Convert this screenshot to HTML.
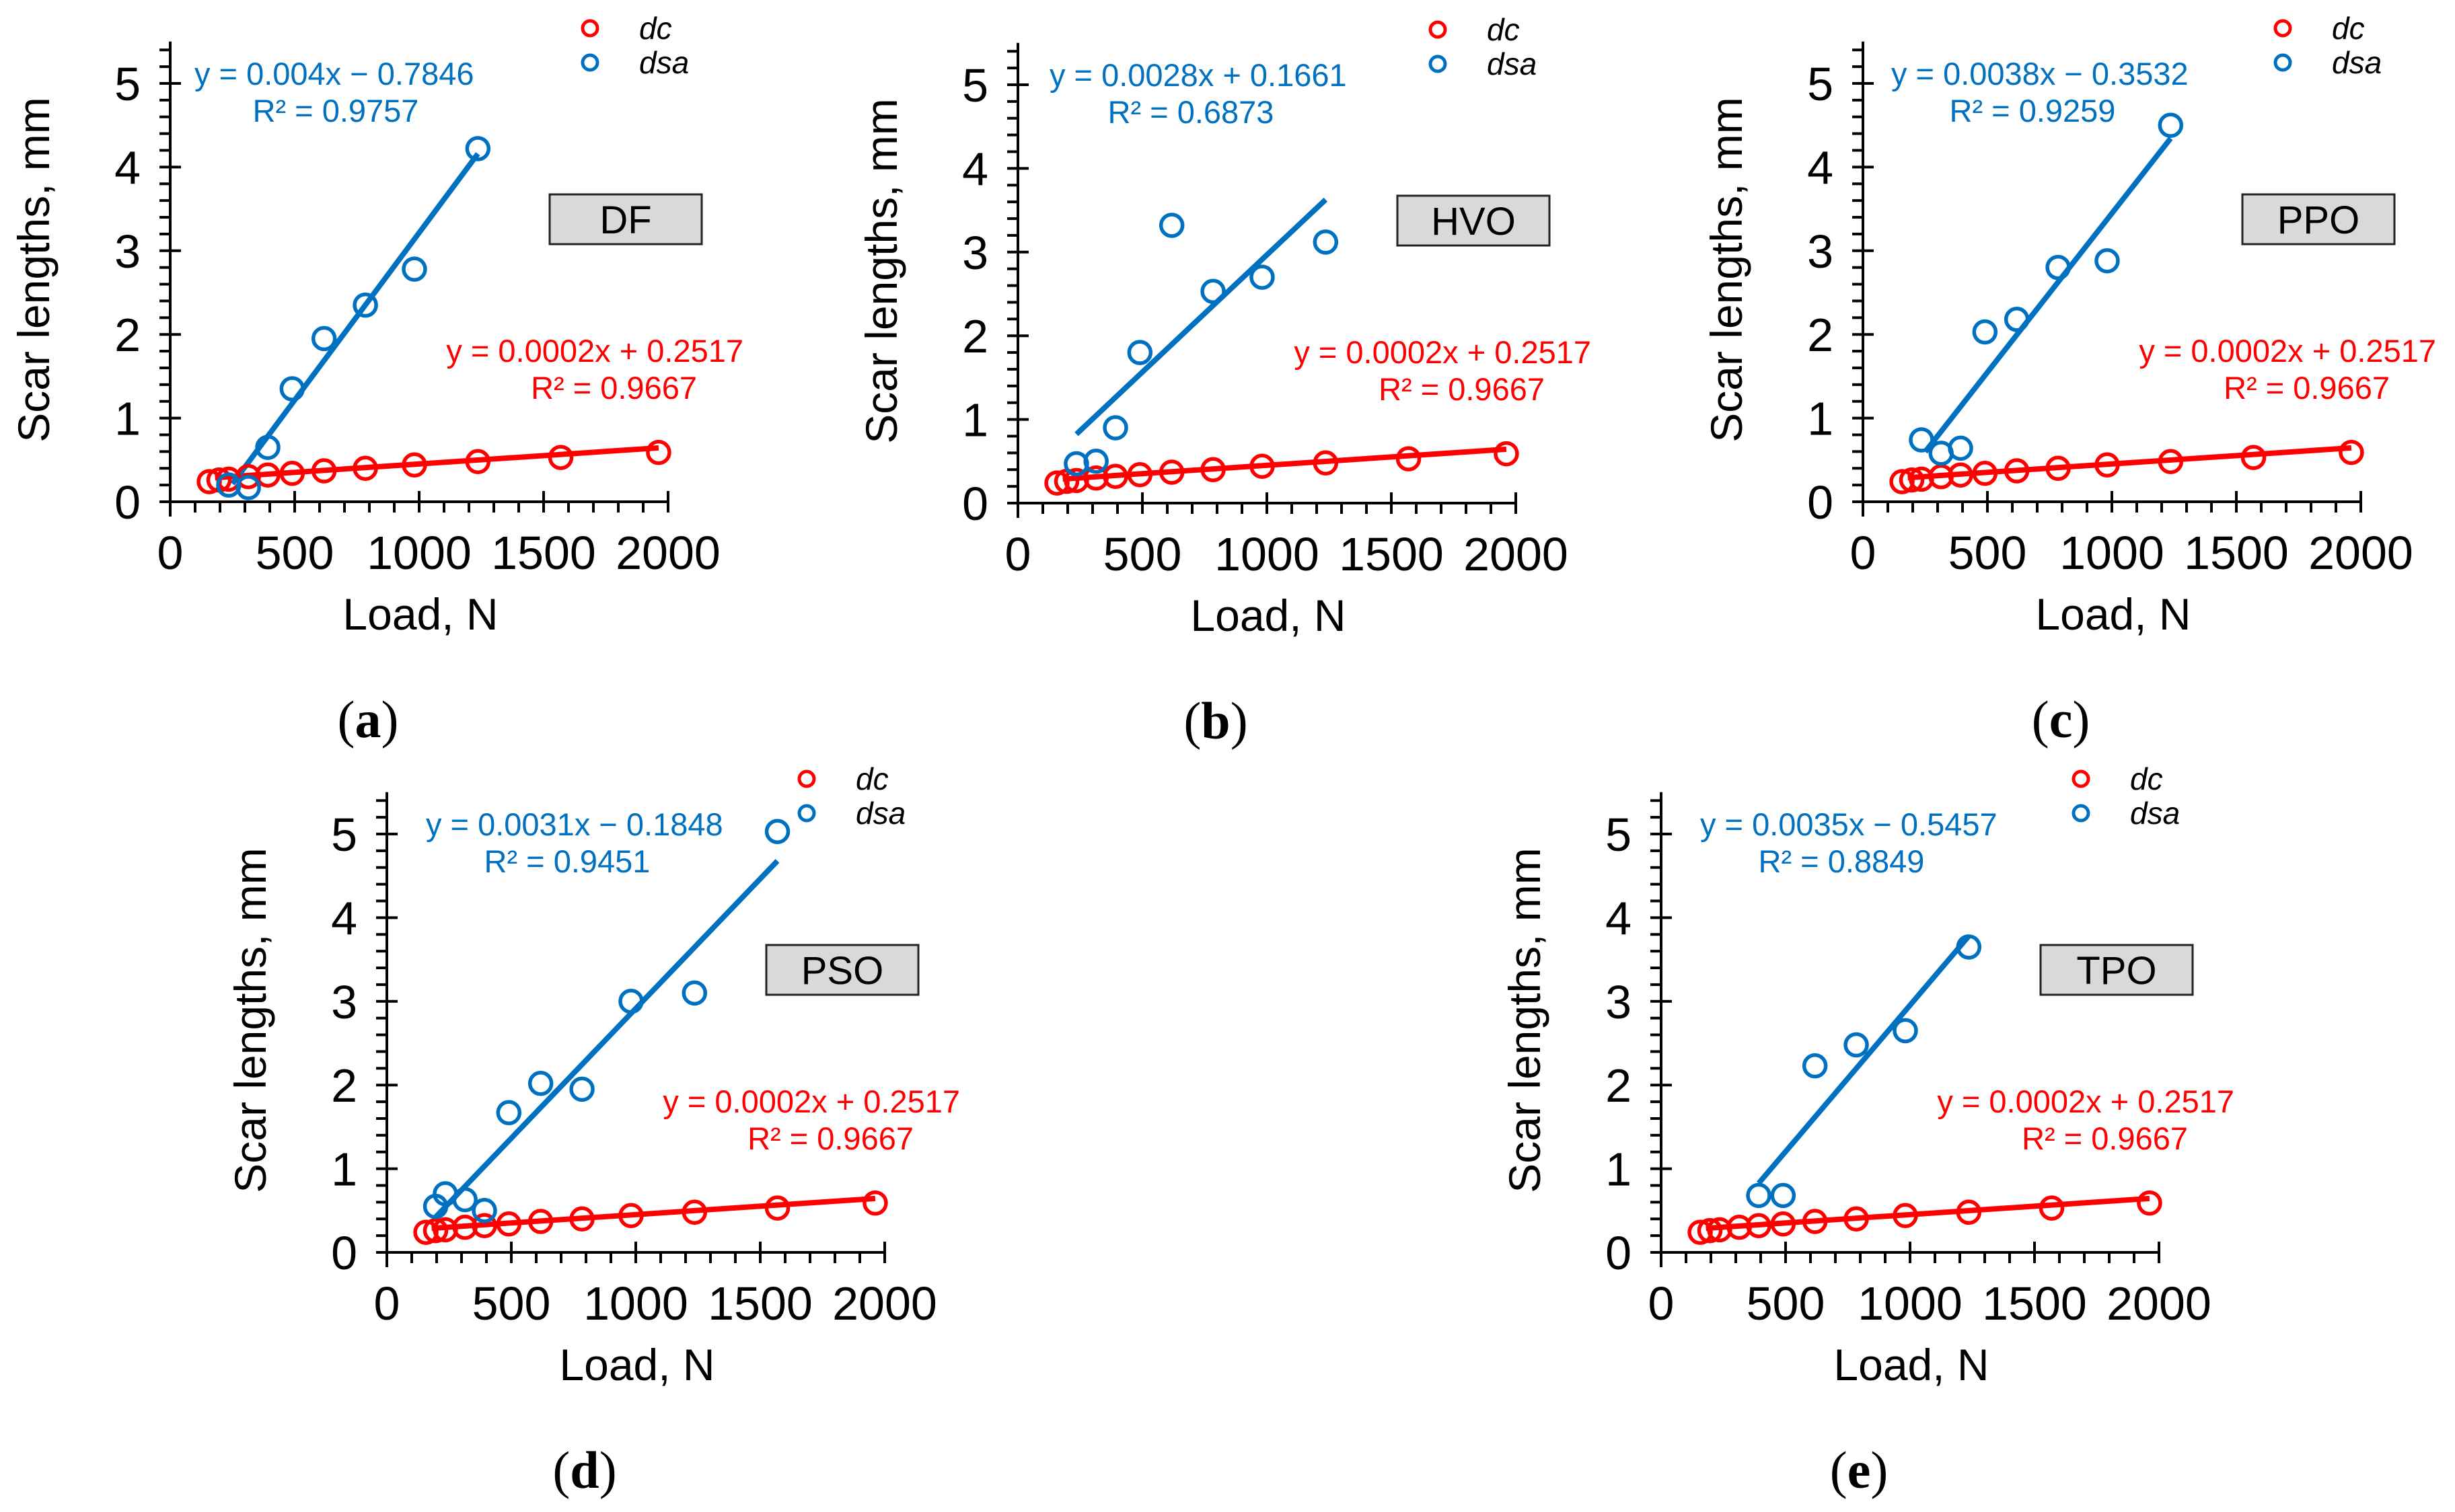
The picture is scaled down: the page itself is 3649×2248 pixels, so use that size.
<!DOCTYPE html>
<html><head><meta charset="utf-8"><style>
html,body{margin:0;padding:0;background:#fff}
svg{display:block}
text{font-family:"Liberation Sans",Arial,sans-serif}
text.cap{font-family:"Liberation Serif","Times New Roman",serif}
</style></head><body>
<svg id="chart" xmlns="http://www.w3.org/2000/svg" width="3649" height="2248" viewBox="0 0 3649 2248"></svg>
<script>
// ---------- data ----------
const panelIds = ['a','b','c','d','e'];
const fuelNames = ['DF','HVO','PPO','PSO','TPO'];
const dcLoads = [157,196,235,314,392,490,618,784,981,1236,1569,1962];
const dcValues = [0.24,0.26,0.27,0.30,0.32,0.34,0.37,0.40,0.44,0.48,0.53,0.59];
const dsaLoadsA = [235,314,392,490,618,784,981,1236];
const dsaValuesA = [0.20,0.17,0.65,1.35,1.95,2.35,2.78,4.22];
const dsaLoadsB = [235,314,392,490,618,784,981,1236];
const dsaValuesB = [0.47,0.50,0.90,1.80,3.32,2.53,2.70,3.12];
const dsaLoadsC = [235,314,392,490,618,784,981,1236];
const dsaValuesC = [0.74,0.58,0.64,2.03,2.18,2.80,2.88,4.50];
const dsaLoadsD = [196,235,314,392,490,618,784,981,1236,1569];
const dsaValuesD = [0.55,0.70,0.63,0.50,1.67,2.02,1.95,3.00,3.10,5.03];
const dsaLoadsE = [392,490,618,784,981,1236];
const dsaValuesE = [0.68,0.68,2.23,2.48,2.65,3.65];
const dsaSlopes = [0.004,0.0028,0.0038,0.0031,0.0035];
const dsaIntercepts = [-0.7846,0.1661,-0.3532,-0.1848,-0.5457];
const dsaFitStart = [250,235,250,196,392];
const dsaFitEnd = [1236,1236,1236,1569,1236];
const dsaEquations = ['y = 0.004x  \u2212 0.7846','y = 0.0028x  + 0.1661','y = 0.0038x  \u2212 0.3532','y = 0.0031x  \u2212 0.1848','y = 0.0035x  \u2212 0.5457'];
const dsaR2 = ['R\u00b2 = 0.9757','R\u00b2 = 0.6873','R\u00b2 = 0.9259','R\u00b2 = 0.9451','R\u00b2 = 0.8849'];
const dcSlope = 0.0002, dcIntercept = 0.2517, dcFitStart = 180, dcFitEnd = 1962;
const dcEquation = 'y = 0.0002x  + 0.2517';
const dcR2 = 'R\u00b2 = 0.9667';
const xTicks = [0,500,1000,1500,2000];
const yTicks = [0,1,2,3,4,5];
// ---------- layout ----------
const dsaLoads = [dsaLoadsA,dsaLoadsB,dsaLoadsC,dsaLoadsD,dsaLoadsE];
const dsaValues = [dsaValuesA,dsaValuesB,dsaValuesC,dsaValuesD,dsaValuesE];
const origins = [[253,746],[1513,748],[2769,746],[575,1862],[2469,1862]];
const eqOffsets = [36,47,42,58,58];
const XW = 740, YU = 124.4, RED = '#ff0000', BLUE = '#0070c0';
const svg = document.getElementById('chart');
const NS = 'http://www.w3.org/2000/svg';
function mk(tag, attrs, parent){
  const e = document.createElementNS(NS, tag);
  for (const k in attrs) e.setAttribute(k, attrs[k]);
  (parent||svg).appendChild(e); return e;
}
function txt(parent, x, y, s, size, anchor, fill, extra){
  const t = mk('text', Object.assign({x:x, y:y, 'font-size':size, 'text-anchor':anchor||'start', fill:fill||'#000'}, extra||{}), parent);
  t.textContent = s; return t;
}
panelIds.forEach((pid, i) => {
  const [x0, y0] = origins[i];
  const sx = v => x0 + v / 2000 * XW;
  const sy = v => y0 - v * YU;
  const g = mk('g', {});
  
  
  const ax = mk('g', {stroke:'#000', 'stroke-width':4}, g);
  
  
  mk('line', {x1:x0-16, y1:y0, x2:sx(2000), y2:y0}, ax);
  mk('line', {x1:x0, y1:sy(5.5), x2:x0, y2:y0+22}, ax);
  for (let v = 100; v <= 2000; v += 100) {
    const major = v % 500 === 0;
    mk('line', {x1:sx(v), y1:major ? y0-16 : y0, x2:sx(v), y2:y0+16}, ax);
  }
  for (let k = 1; k <= 27; k++) {
    const v = k * 0.2, major = k % 5 === 0;
    mk('line', {x1:x0-16, y1:sy(v), x2:major ? x0+16 : x0, y2:sy(v)}, ax);
  }
  xTicks.forEach(v => {
    const t = txt(g, sx(v), y0 + 100, String(v), 70, 'middle');
    
    
  });
  yTicks.forEach(v => {
    const t = txt(g, x0 - 44, sy(v) + 25, String(v), 70, 'end');
    
    
  });
  const xt = txt(g, x0 + 372, y0 + 190, 'Load, N', 66, 'middle');
  
  
  const yt = txt(g, 0, 0, 'Scar lengths,  mm', 66, 'middle', '#000', {transform:'translate(' + (x0 - 180) + ',' + (y0 - 345) + ') rotate(-90)', 'xml:space':'preserve'});
  
  
  const dl = mk('line', {x1:sx(dcFitStart), y1:sy(dcSlope*dcFitStart+dcIntercept), x2:sx(dcFitEnd), y2:sy(dcSlope*dcFitEnd+dcIntercept), stroke:RED, 'stroke-width':8}, g);
  
  
  const bl = mk('line', {x1:sx(dsaFitStart[i]), y1:sy(dsaSlopes[i]*dsaFitStart[i]+dsaIntercepts[i]), x2:sx(dsaFitEnd[i]), y2:sy(dsaSlopes[i]*dsaFitEnd[i]+dsaIntercepts[i]), stroke:BLUE, 'stroke-width':8}, g);
  
  
  dcLoads.forEach((L, j) => {
    const c = mk('circle', {cx:sx(L), cy:sy(dcValues[j]), r:16, fill:'none', stroke:RED, 'stroke-width':5.5}, g);
    
    
  });
  dsaLoads[i].forEach((L, j) => {
    const c = mk('circle', {cx:sx(L), cy:sy(dsaValues[i][j]), r:16, fill:'none', stroke:BLUE, 'stroke-width':5.5}, g);
    
    
  });
  const be = txt(g, x0 + eqOffsets[i], y0 - 620, dsaEquations[i], 47, 'start', BLUE, {'xml:space':'preserve'});
  
  
  const br = txt(g, x0 + eqOffsets[i] + 210, y0 - 565, dsaR2[i], 47, 'middle', BLUE);
  
  
  const re = txt(g, x0 + 852, y0 - 208, dcEquation, 47, 'end', RED, {'xml:space':'preserve'});
  
  
  const rr = txt(g, x0 + 783, y0 - 153, dcR2, 47, 'end', RED);
  
  
  const bx = mk('rect', {x:x0 + 564, y:y0 - 457, width:226, height:74, fill:'#d9d9d9', stroke:'#222', 'stroke-width':3}, g);
  
  
  const bt = txt(g, x0 + 677, y0 - 399, fuelNames[i], 58, 'middle');
  
  
  const lg = mk('g', {}, g);
  
  
  const c1 = mk('circle', {cx:x0 + 624, cy:y0 - 704, r:11, fill:'none', stroke:RED, 'stroke-width':5}, lg);
  
  
  const t1 = txt(lg, x0 + 697, y0 - 688, 'dc', 46, 'start', '#000', {'font-style':'italic'});
  
  
  const c2 = mk('circle', {cx:x0 + 624, cy:y0 - 653, r:11, fill:'none', stroke:BLUE, 'stroke-width':5}, lg);
  
  
  const t2 = txt(lg, x0 + 697, y0 - 637, 'dsa', 46, 'start', '#000', {'font-style':'italic'});
  
  
  const cap = mk('text', {x:x0 + 294, y:y0 + 350, 'font-size':78, 'text-anchor':'middle', 'class':'cap'}, g);
  
  
  const p1 = mk('tspan', {}, cap); p1.textContent = '(';
  const p2 = mk('tspan', {'font-weight':'bold'}, cap); p2.textContent = pid;
  const p3 = mk('tspan', {}, cap); p3.textContent = ')';
});
</script>
</body></html>
